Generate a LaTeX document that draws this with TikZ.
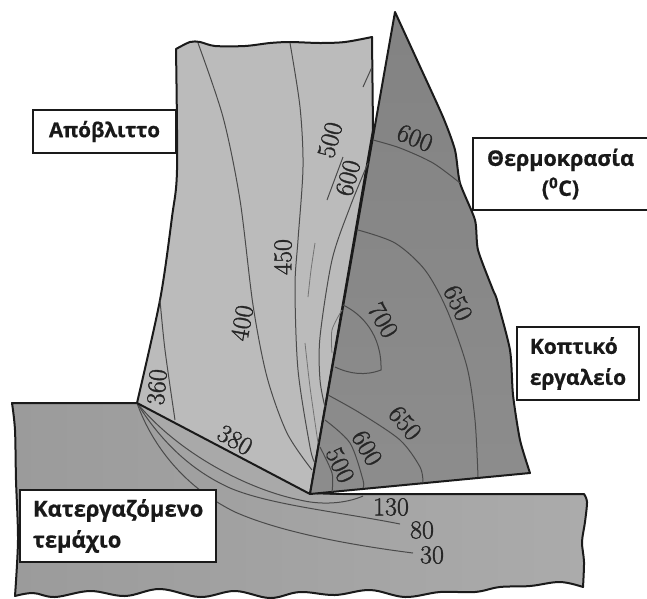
\documentclass[tikz,border=0pt]{standalone}
\usepackage{fontspec}
\setmainfont{Latin Modern Roman}
\newfontfamily\lblfont[FakeBold=0.6]{Open Sans Bold}
\newfontfamily\valfont[FakeBold=1.4]{Latin Modern Roman}
\definecolor{chipc}{HTML}{BBBBBB}
\definecolor{toolc}{HTML}{8E8E8E}
\definecolor{workl}{HTML}{9B9B9B}
\definecolor{workr}{HTML}{ABABAB}
\definecolor{bandc}{HTML}{A9A9A9}
\definecolor{edgec}{HTML}{1A1A1A}
\definecolor{isoc}{HTML}{4A4A4A}
\tikzset{
  x=1pt,y=-1pt,
  outline/.style={draw=edgec,line width=2pt,line join=round},
  iso/.style={draw=isoc,line width=1pt},
  faint/.style={draw=gray!90!black,line width=0.8pt},
  val/.style={font=\valfont\fontsize{26}{26}\selectfont,text=black!85,inner sep=0pt},
  lbl/.style={draw=edgec,fill=white,line width=1.1pt,inner sep=0pt,text=black!90},
}
\begin{document}
\begin{tikzpicture}
\useasboundingbox (0,0) rectangle (647,598);
% workpiece
\path[left color=workl,right color=workr,outline]
  (12,403) -- (137,403) -- (310,494) -- (584,494)
  -- plot[smooth,tension=0.5] coordinates {(584,494) (587,502) (585,522) (582,542) (584,562) (583,587)}
  -- plot[smooth,tension=0.6] coordinates {(583,587) (560,582) (530,586) (500,587) (475,592) (440,592) (405,597) (370,590) (335,595) (300,592) (270,598) (235,591) (200,597) (160,589) (125,596) (90,591) (55,597) (33,593) (15,596)}
  -- plot[smooth,tension=0.5] coordinates {(15,596) (18,540) (16,480) (15,430) (12,403)} -- cycle;
% heated bands
\path[fill=bandc] (137,403) -- (310,494) -- (363,496)
  .. controls (345,504) and (320,505) .. (300,500)
  .. controls (250,490) and (180,455) .. (137,403) -- cycle;
\path[fill=bandc!60!workl] (137,403) .. controls (180,455) and (250,490) .. (300,500)
  .. controls (320,505) and (345,504) .. (363,496) -- (400,524)
  .. controls (340,512) and (270,505) .. (230,488)
  .. controls (190,470) and (160,440) .. (137,403) -- cycle;
% isotherms in workpiece
\draw[iso] (137,403) .. controls (180,455) and (250,490) .. (300,500) .. controls (320,505) and (345,504) .. (363,496);
\draw[iso] (137,403) .. controls (160,440) and (190,470) .. (230,488) .. controls (270,505) and (340,512) .. (400,524);
\draw[iso] (137,403) .. controls (150,440) and (180,485) .. (235,512) .. controls (280,532) and (350,545) .. (413,553);
% chip
\path[fill=chipc,outline]
  (137,403) -- plot[smooth,tension=0.5] coordinates {(137,403) (160,300) (172,217) (177,170) (176,49)}
  -- plot[smooth,tension=0.5] coordinates {(176,49) (190,42) (200,42) (215,46) (245,46) (270,43) (290,42) (320,43) (345,42) (372,37)}
  -- (373,130) -- (310,494) -- cycle;
% tool
\path[top color=toolc!92!black,bottom color=toolc!100!white!90!gray,outline]
  (310,494) -- (395,12)
  -- plot[smooth,tension=0.4] coordinates {(395,12) (417,60) (443,117) (455,150) (460,183) (475,220) (478,250) (493,290) (497,300) (510,350) (513,395) (520,440) (530,473)}
  -- cycle;
% isotherms in chip
\draw[iso] plot[smooth] coordinates {(198,43) (223,117) (240,200) (253,305) (267,377) (287,433) (312,470)};
\draw[iso] plot[smooth] coordinates {(290,43) (300,107) (303,167) (298,240) (295,287) (298,370) (310,447) (315,463)};
\draw[iso] plot[smooth] coordinates {(368,163) (350,207) (332,260) (320,337) (320,380) (325,407)};
\draw[iso] (372,67) -- (363,87);
\draw[iso] (343,157) -- (327,200);
\draw[iso] plot[smooth] coordinates {(160,300) (165,350) (175,420)};
\draw[faint] plot[smooth] coordinates {(315,243) (311,270) (308,297)};
\draw[faint] plot[smooth] coordinates {(305,343) (310,387) (318,443)};
\draw[faint] plot[smooth] coordinates {(342,310) (332,330) (332,353)};
% isotherms in tool
\draw[iso] plot[smooth] coordinates {(373,140) (400,148) (433,163) (460,183)};
\draw[iso] plot[smooth] coordinates {(358,230) (395,243) (425,270) (447,310) (467,367) (475,420) (478,477)};
\draw[iso] (343,305) .. controls (362,314) and (382,335) .. (381,370) .. controls (365,376) and (350,374) .. (335,367);
\draw[iso] plot[smooth] coordinates {(328,395) (360,413) (400,440) (420,467) (423,483)};
\draw[iso] plot[smooth] coordinates {(325,420) (350,443) (363,480) (363,488)};
\draw[iso] plot[smooth] coordinates {(320,447) (332,473) (332,492)};
% values
\node[val,rotate=-22] (t600) at (415,138) {600};
\node[val,rotate=75] (c500) at (330,140) {500};
\node[val,rotate=75] (c600) at (348,178) {600};
\node[val,rotate=90] (c450) at (283,257) {450};
\node[val,rotate=80] (c400) at (242,323) {400};
\node[val,rotate=85] (c360) at (157,387) {360};
\node[val,rotate=-30] (c380) at (235,440) {380};
\node[val,rotate=-60] (t700) at (383,320) {700};
\node[val,rotate=-65] (t650a) at (458,303) {650};
\node[val,rotate=-50] (t650b) at (405,423) {650};
\node[val,rotate=-60] (t600b) at (367,448) {600};
\node[val,rotate=-65] (t500) at (340,465) {500};
\node[val] (w130) at (391,507) {130};
\node[val] (w80) at (422,530) {80};
\node[val] (w30) at (432,555) {30};
% labels
\node[lbl,minimum width=143pt,minimum height=43pt,font=\lblfont\fontsize{20.5}{28}\selectfont] (waste) at (104.5,131.5) {Απόβλιττο};
\node[lbl,minimum width=175pt,minimum height=72pt,align=center,font=\lblfont\fontsize{21.5}{30}\selectfont] (temp) at (560.5,174) {Θερμοκρασία\\(\textsuperscript{0}C)};
\node[lbl,minimum width=122pt,minimum height=73pt,align=left,font=\lblfont\fontsize{21}{31}\selectfont] (tool) at (578,363.5) {Κοπτικό\\εργαλείο};
\node[lbl,minimum width=196pt,minimum height=72pt,align=left,text width=170pt,font=\lblfont\fontsize{22}{31}\selectfont] (work) at (118,526) {Κατεργαζόμενο\\τεμάχιο};
\end{tikzpicture}
\end{document}
